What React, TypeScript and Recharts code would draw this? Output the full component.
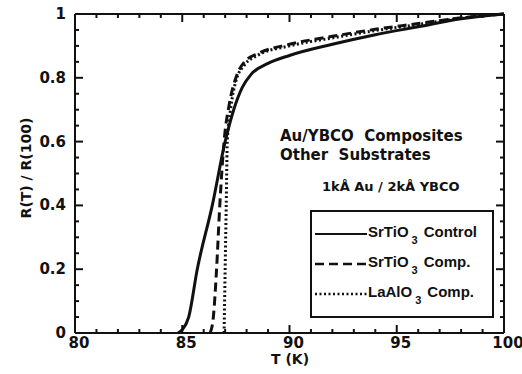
import React from 'react';
import { LineChart, Line, XAxis, YAxis } from 'recharts';

// SrTiO3 Control (solid)
const controlT = [84.8, 85.0, 85.3, 85.7, 86.4, 87.0, 87.4, 87.8, 88.2, 89, 90, 92, 94, 96, 98, 100];
const controlR = [0, 0.01, 0.05, 0.2, 0.4, 0.6, 0.7, 0.77, 0.81, 0.845, 0.87, 0.905, 0.935, 0.96, 0.985, 1.0];
// SrTiO3 Comp. (dashed)
const srCompT = [86.3, 86.45, 86.6, 86.75, 86.95, 87.2, 87.5, 87.9, 88.5, 90, 92, 94, 96, 98, 100];
const srCompR = [0, 0.05, 0.2, 0.4, 0.6, 0.72, 0.8, 0.85, 0.875, 0.905, 0.93, 0.952, 0.97, 0.988, 1.0];
// LaAlO3 Comp. (dotted)
const laCompT = [86.95, 87.0, 87.05, 87.1, 87.25, 87.5, 87.9, 88.5, 90, 92, 94, 96, 98, 100];
const laCompR = [0, 0.2, 0.4, 0.6, 0.7, 0.79, 0.84, 0.87, 0.9, 0.925, 0.948, 0.967, 0.987, 1.0];

const xTicks = [80, 81, 82, 83, 84, 85, 86, 87, 88, 89, 90, 91, 92, 93, 94, 95, 96, 97, 98, 99, 100];
const yTicks = [0, 0.05, 0.1, 0.15, 0.2, 0.25, 0.3, 0.35, 0.4, 0.45, 0.5, 0.55, 0.6, 0.65, 0.7, 0.75, 0.8, 0.85, 0.9, 0.95, 1];
const xMajorStep = 5;
const yMajorStep = 0.2;

const seriesNames = ['SrTiO3 Control', 'SrTiO3 Comp.', 'LaAlO3 Comp.'];
const seriesDashes = ['', '9 5', '2 2.5'];
const annotationLines = ['Au/YBCO  Composites', 'Other  Substrates'];
const thicknessNote = '1kÅ Au / 2kÅ YBCO';
const xTitle = 'T (K)';
const yTitle = 'R(T) / R(100)';

// one table keyed by temperature, built from the arrays above
const allT = Array.from(new Set([...controlT, ...srCompT, ...laCompT])).sort((a, b) => a - b);
const tableData = allT.map((t) => {
  const row: any = { T: t };
  const i1 = controlT.indexOf(t);
  const i2 = srCompT.indexOf(t);
  const i3 = laCompT.indexOf(t);
  if (i1 >= 0) row.R1 = controlR[i1];
  if (i2 >= 0) row.R2 = srCompR[i2];
  if (i3 >= 0) row.R3 = laCompR[i3];
  return row;
});

const isMajor = (v: number, step: number) => Math.abs(v / step - Math.round(v / step)) < 1e-6;
const FONT = 'DejaVu Sans';
const INK = '#111';

const renderBottomTick = (p: any) => {
  const major = isMajor(p.payload.value, xMajorStep);
  return (
    <g>
      <line x1={p.x} x2={p.x} y1={p.y} y2={p.y - (major ? 8 : 4)} stroke={INK} strokeWidth={2} />
      <text x={p.x + 4} y={p.y + 15} textAnchor="middle" fontFamily={FONT} fontWeight="bold" fontSize={15} fill={INK}>
        {major ? p.payload.value : ''}
      </text>
    </g>
  );
};
const renderTopTick = (p: any) => {
  const major = isMajor(p.payload.value, xMajorStep);
  return (
    <g>
      <line x1={p.x} x2={p.x} y1={p.y} y2={p.y + (major ? 8 : 4)} stroke={INK} strokeWidth={2} />
    </g>
  );
};
const renderLeftTick = (p: any) => {
  const major = isMajor(p.payload.value, yMajorStep);
  return (
    <g>
      <line x1={p.x} x2={p.x + (major ? 8 : 4)} y1={p.y} y2={p.y} stroke={INK} strokeWidth={2} />
      <text x={p.x - 9} y={p.y + 5} textAnchor="end" fontFamily={FONT} fontWeight="bold" fontSize={15} fill={INK}>
        {major ? String(Math.round(p.payload.value * 10) / 10) : ''}
      </text>
    </g>
  );
};
const renderRightTick = (p: any) => {
  const major = isMajor(p.payload.value, yMajorStep);
  return (
    <g>
      <line x1={p.x} x2={p.x - (major ? 8 : 4)} y1={p.y} y2={p.y} stroke={INK} strokeWidth={2} />
    </g>
  );
};

const LegendBox = () => (
  <div
    style={{
      position: 'absolute',
      left: 310,
      top: 210,
      width: 184,
      height: 108,
      boxSizing: 'border-box',
      border: '2px solid #111',
      overflow: 'hidden',
      background: '#fff',
    }}
  >
    {seriesNames.map((name, i) => {
      const m = /^(\D+)(\d)\s(.*)$/.exec(name) || [name, name, '', ''];
      return (
        <div key={i} style={{ position: 'absolute', left: 2, top: 10 + i * 30, height: 24, whiteSpace: 'nowrap', display: 'flex', alignItems: 'center' }}>
          <svg width={54} height={24}>
            <line x1={1} x2={53} y1={12} y2={12} stroke="#111" strokeWidth={i === 0 ? 2.2 : 2.6} strokeDasharray={seriesDashes[i] || undefined} />
          </svg>
          <span style={{ fontFamily: '"Liberation Sans", Arial, sans-serif', fontWeight: 'bold', fontSize: 15, color: '#111' }}>
            {m[1]}
            <sub style={{ fontSize: 11, verticalAlign: -7, margin: '0 6px 0 3px' }}>{m[2]}</sub>
            {m[3]}
          </span>
        </div>
      );
    })}
  </div>
);

export default function App() {
  return (
    <div style={{ position: 'absolute', left: 0, top: 0, width: 522, height: 374, background: '#fff' }}>
      <LineChart width={522} height={374} data={tableData} margin={{ top: 13, right: 17, bottom: 0, left: 0 }}>
        <XAxis xAxisId="top" dataKey="T" orientation="top" type="number" domain={[80, 100]} ticks={xTicks} interval={0} tick={renderTopTick} tickLine={false} tickSize={0} tickMargin={0} height={1} axisLine={{ stroke: INK, strokeWidth: 2 }} />
        <XAxis dataKey="T" type="number" domain={[80, 100]} ticks={xTicks} interval={0} tick={renderBottomTick} tickLine={false} tickSize={0} tickMargin={0} height={41} axisLine={{ stroke: INK, strokeWidth: 2 }} />
        <YAxis type="number" domain={[0, 1]} ticks={yTicks} interval={0} tick={renderLeftTick} tickLine={false} tickSize={0} tickMargin={0} width={75} axisLine={{ stroke: INK, strokeWidth: 2 }} />
        <YAxis yAxisId="right" orientation="right" type="number" domain={[0, 1]} ticks={yTicks} interval={0} tick={renderRightTick} tickLine={false} tickSize={0} tickMargin={0} width={1} axisLine={{ stroke: INK, strokeWidth: 2 }} />
        <Line xAxisId="top" yAxisId="right" dataKey="R1" stroke="none" dot={false} connectNulls isAnimationActive={false} />
        <Line dataKey="R1" type="monotone" stroke={INK} strokeWidth={3} dot={false} connectNulls isAnimationActive={false} />
        <Line dataKey="R2" type="monotone" stroke={INK} strokeWidth={3} strokeDasharray={seriesDashes[1]} dot={false} connectNulls isAnimationActive={false} />
        <Line dataKey="R3" type="monotone" stroke={INK} strokeWidth={3} strokeDasharray={seriesDashes[2]} dot={false} connectNulls isAnimationActive={false} />
      </LineChart>
      <LegendBox />
      <div style={{ position: 'absolute', left: 280, top: 127, fontFamily: '"DejaVu Sans", sans-serif', fontWeight: 'bold', fontSize: 15, lineHeight: '19px', color: INK, whiteSpace: 'pre', pointerEvents: 'none' }}>
        {annotationLines.map((l, i) => (
          <div key={i}>{l}</div>
        ))}
      </div>
      <div style={{ position: 'absolute', left: 322, top: 179, fontFamily: '"DejaVu Sans", sans-serif', fontWeight: 'bold', fontSize: 13, color: INK, whiteSpace: 'pre', pointerEvents: 'none' }}>
        {thicknessNote}
      </div>
      <div style={{ position: 'absolute', left: 290, top: 359, transform: 'translate(-50%, -50%)', fontFamily: '"DejaVu Sans", sans-serif', fontWeight: 'bold', fontSize: 14, color: INK, whiteSpace: 'pre' }}>
        {xTitle}
      </div>
      <div style={{ position: 'absolute', left: 26, top: 168, transform: 'translate(-50%, -50%) rotate(-90deg)', fontFamily: '"DejaVu Sans", sans-serif', fontWeight: 'bold', fontSize: 14, color: INK, whiteSpace: 'pre' }}>
        {yTitle}
      </div>
    </div>
  );
}
